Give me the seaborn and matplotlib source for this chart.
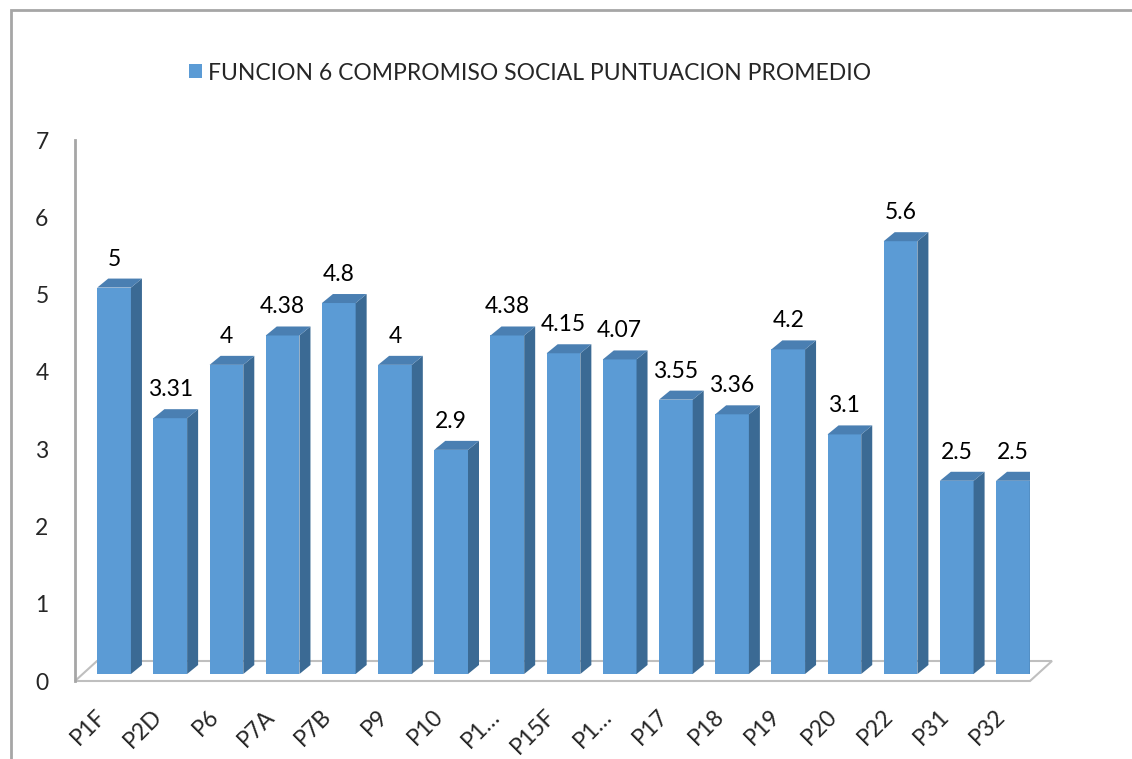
import numpy as np
import seaborn as sns
from matplotlib import pyplot as plt
from matplotlib.patches import Polygon, Rectangle

categories = ['P1F', 'P2D', 'P6', 'P7A', 'P7B', 'P9', 'P10', 'P1…', 'P15F', 'P1… ',
              'P17', 'P18', 'P19', 'P20', 'P22', 'P31', 'P32']
tick_labels = ['P1F', 'P2D', 'P6', 'P7A', 'P7B', 'P9', 'P10', 'P1…', 'P15F', 'P1…',
               'P17', 'P18', 'P19', 'P20', 'P22', 'P31', 'P32']
values = [5, 3.31, 4, 4.38, 4.8, 4, 2.9, 4.38, 4.15, 4.07, 3.55, 3.36, 4.2, 3.1, 5.6, 2.5, 2.5]
series_name = 'FUNCION 6 COMPROMISO SOCIAL PUNTUACION PROMEDIO'

sns.set_style('white')
plt.rcParams['font.family'] = ['Lato', 'DejaVu Sans']

W, H = 1132, 759
fig = plt.figure(figsize=(W / 100, H / 100), dpi=100)
ax = fig.add_axes([75 / W, 1 - 681 / H, 955 / W, 541 / H])

# chart frame (cut off on the right and bottom)
fig.patches.append(Rectangle((11 / W, -0.1), 1.2, 1 - 10 / H + 0.1, transform=fig.transFigure,
                             fill=False, edgecolor='#A6A6A6', lw=2))

front = '#5B9BD5'
side = '#3B6A94'
top = '#4A7FB2'

sns.barplot(x=categories, y=values, color=front, saturation=1, width=0.6, ax=ax,
            label=series_name, zorder=3)
bars = list(ax.patches)
n = len(values)
ax.set_xlim(-0.5, n - 0.5)
ax.set_ylim(0, 7)

# pixel -> data conversions for the pseudo-3D depth
px_x = n / 955
px_y = 7 / 541

# floor
fdx, fdy = 22 * px_x, 20 * px_y
ax.add_patch(Polygon([(-0.5, 0), (n - 0.5, 0), (n - 0.5 + fdx, fdy), (-0.5 + fdx, fdy)],
                     closed=True, facecolor='white', edgecolor='#BFBFBF', lw=1.5,
                     zorder=1, clip_on=False))

sx, sy = 11 * px_x, 7 * px_y
dx, dy = 11 * px_x, 9 * px_y
for bar, v in zip(bars, values):
    x = bar.get_x() + sx
    w = bar.get_width()
    y0 = sy
    y1 = v + sy
    bar.set_x(x)
    bar.set_y(y0)
    bar.set_height(y1 - y0)
    bar.set_edgecolor('none')
    ax.add_patch(Polygon([(x + w, y0), (x + w + dx, y0 + dy), (x + w + dx, y1 + dy), (x + w, y1)],
                         closed=True, facecolor=side, edgecolor='none', zorder=3))
    ax.add_patch(Polygon([(x, y1), (x + dx, y1 + dy), (x + w + dx, y1 + dy), (x + w, y1)],
                         closed=True, facecolor=top, edgecolor='none', zorder=3))
    ax.text(x + w / 2, y1 + dy + 9 * px_y, f'{v:g}', ha='center', va='bottom',
            fontsize=16.5, color='black', zorder=4)

sns.despine(ax=ax, left=False, bottom=True, right=True, top=True)
ax.spines['left'].set_color('#A6A6A6')
ax.spines['left'].set_linewidth(2)
ax.set_yticks(range(0, 8))
ax.tick_params(axis='y', length=0, pad=19, labelsize=16.5)
ax.set_xticks(range(n))
ax.set_xticklabels(tick_labels, rotation=45, ha='right', va='center',
                   rotation_mode='anchor', fontsize=16.5)
ax.tick_params(axis='x', length=0, pad=23)
ax.set_xlabel('')
ax.set_ylabel('')

ax.legend(loc='center left', bbox_to_anchor=(189 / W, 1 - 73 / H),
          bbox_transform=fig.transFigure, frameon=False, fontsize=16.5,
          handlelength=0.55, handleheight=0.55, handletextpad=0.3,
          borderpad=0, borderaxespad=0)

fig.savefig('out.png', dpi=100)
